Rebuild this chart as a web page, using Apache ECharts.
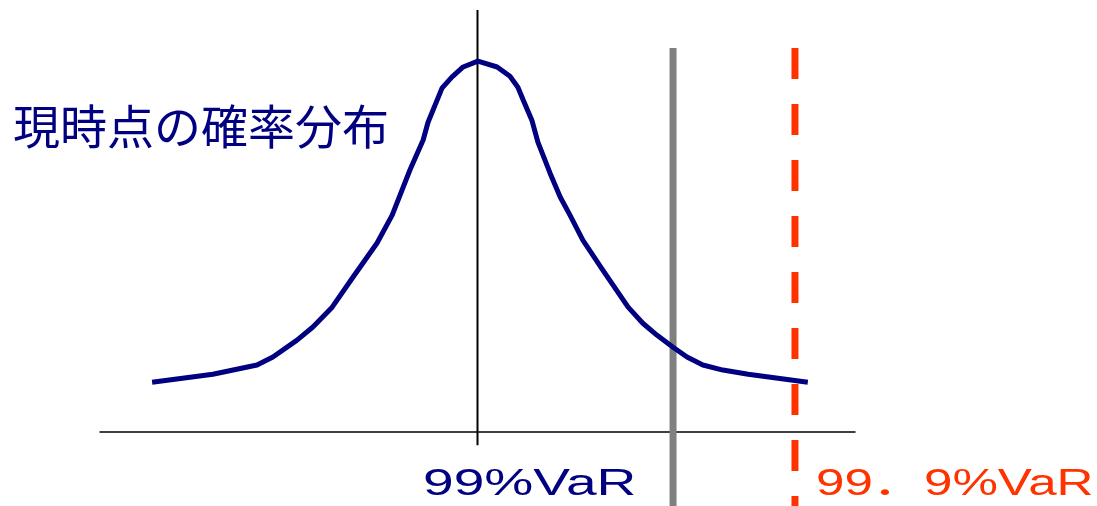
<!DOCTYPE html>
<html lang="ja">
<head>
    <meta charset="UTF-8">
    <title>VaR</title>
    <script src="https://cdn.jsdelivr.net/npm/echarts@6/dist/echarts.min.js"></script>
    <style>
        html,body{
            margin: 0;
            height: 100%;
            background: #fff;
        }
    </style>
</head>
<body>
<div id="main" style="width: 1097px;height: 506px;"></div>
<script>
    // 現時点の確率分布（x: 損益, y: 確率密度）
    var curveX = [-8.62, -7.01, -5.84, -5.42, -4.78, -4.36, -3.85, -3.30, -2.66, -2.26, -1.79, -1.44, -1.31, -0.94, -0.68, -0.38, 0.01,
        0.52, 0.86, 1.07, 1.21, 1.44, 1.60, 1.92, 2.19, 2.45, 2.79, 3.32, 3.99, 4.38, 4.75, 5.18, 5.55, 5.97, 6.50, 7.17, 8.75];
    var curveY = [11.8, 13.7, 15.9, 17.8, 21.8, 24.9, 29.6, 36.7, 44.8, 51.4, 62.1, 69.2, 73.4, 81.5, 84.1, 86.5, 87.9,
        86.5, 84.3, 81.7, 78.7, 73.9, 68.7, 61.4, 55.7, 51.4, 45.5, 38.4, 29.6, 25.8, 23.0, 20.1, 17.8, 15.9, 14.7, 13.7, 11.8];
    // 縦線の位置
    var centerX = 0;
    var var99X = 5.18;
    var var999X = 8.41;
    // 縦線の上端・下端
    var centerTop = 100, centerBottom = -3.1;
    var varTop = 91, varBottom = -17.5;
    // ラベル
    var titleText = '現時点の確率分布';
    var label99 = '99%VaR';
    var label999 = '99．9%VaR';

    var curveData = [];
    for (var i = 0; i < curveX.length; i++) {
        curveData.push([curveX[i], curveY[i]]);
    }

    var myChart = echarts.init(document.getElementById('main'));

    var option = {
        animation: false,
        grid: {left: 100, right: 242, top: 10, bottom: 0},
        xAxis: {
            type: 'value',
            min: -10,
            max: 10,
            axisLine: {show: true, onZero: true, lineStyle: {color: '#000', width: 1.5}},
            axisTick: {show: false},
            axisLabel: {show: false},
            splitLine: {show: false}
        },
        yAxis: {
            type: 'value',
            min: -17.5,
            max: 100,
            show: false,
            splitLine: {show: false}
        },
        series: [
            {
                type: 'line',
                data: [[centerX, centerTop], [centerX, centerBottom]],
                symbol: 'none',
                lineStyle: {color: '#000', width: 2}
            },
            {
                type: 'line',
                data: [[var99X, varTop], [var99X, varBottom]],
                symbol: 'none',
                lineStyle: {color: '#808080', width: 7}
            },
            {
                type: 'line',
                data: [[var999X, varTop], [var999X, varBottom]],
                symbol: 'none',
                lineStyle: {color: '#FF3300', width: 7, type: [31, 25]}
            },
            {
                type: 'line',
                data: curveData,
                symbol: 'none',
                smooth: false,
                lineStyle: {color: '#000080', width: 5, join: 'round'}
            }
        ],
        graphic: [
            {
                type: 'text',
                x: 13,
                y: 126,
                style: {
                    text: titleText,
                    fill: '#000080',
                    font: '47px "Noto Sans CJK JP"',
                    textAlign: 'left',
                    textVerticalAlign: 'middle',
                    align: 'left',
                    verticalAlign: 'middle'
                }
            },
            {
                type: 'text',
                x: 423,
                y: 485,
                scaleX: 1.53,
                style: {
                    text: label99,
                    fill: '#000080',
                    font: '36px "Liberation Sans", "Noto Sans CJK JP"',
                    textAlign: 'left',
                    textVerticalAlign: 'middle',
                    align: 'left',
                    verticalAlign: 'middle'
                }
            },
            {
                type: 'text',
                x: 816,
                y: 485,
                scaleX: 1.42,
                style: {
                    text: label999,
                    fill: '#FF3300',
                    font: '36px "Liberation Sans", "Noto Sans CJK JP"',
                    textAlign: 'left',
                    textVerticalAlign: 'middle',
                    align: 'left',
                    verticalAlign: 'middle'
                }
            }
        ]
    };

    myChart.setOption(option);
</script>
</body>
</html>
